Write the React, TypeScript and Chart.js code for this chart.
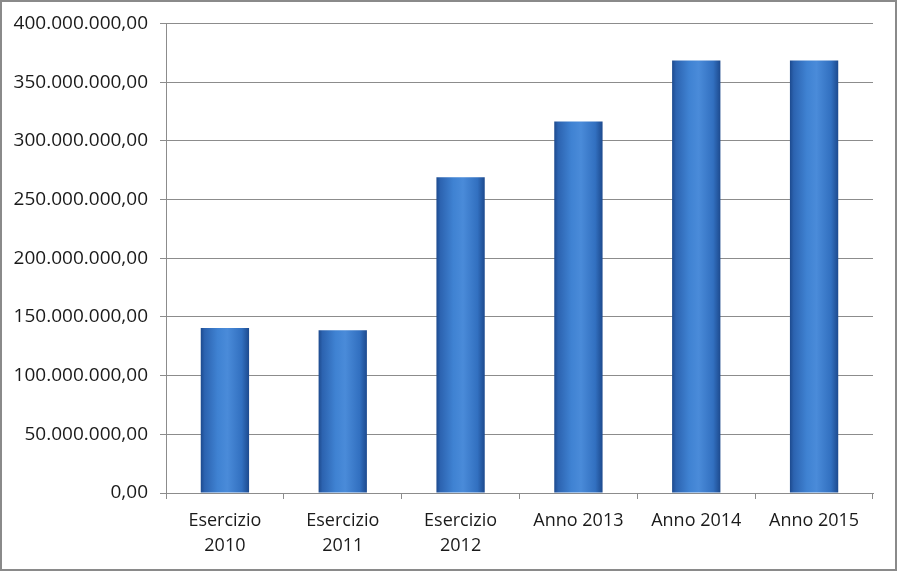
import React, { useEffect, useRef } from "react";
import { Chart, registerables } from "chart.js";

Chart.register(...registerables);

const categories: string[][] = [
  ["Esercizio", "2010"],
  ["Esercizio", "2011"],
  ["Esercizio", "2012"],
  ["Anno 2013"],
  ["Anno 2014"],
  ["Anno 2015"],
];
const values: number[] = [140500000, 138700000, 269000000, 316500000, 368500000, 368500000];
const yMin = 0;
const yMax = 400000000;
const yStep = 50000000;

function formatIt(v: number): string {
  const intPart = Math.round(v)
    .toString()
    .replace(/\B(?=(\d{3})+(?!\d))/g, ".");
  return intPart + ",00";
}

export default function App() {
  const ref = useRef<HTMLCanvasElement | null>(null);

  useEffect(() => {
    document.body.style.margin = "0";
    const canvas = ref.current;
    if (!canvas) return;
    const fallback = "#3a78c8";
    const chart = new Chart(canvas, {
      type: "bar",
      data: {
        labels: categories,
        datasets: [
          {
            data: values,
            borderWidth: 0,
            backgroundColor: (ctx: any) => {
              const el = ctx.chart.getDatasetMeta(0).data[ctx.dataIndex] as any;
              if (!el || el.x === undefined || isNaN(el.x) || !el.width) return fallback;
              const c = ctx.chart.ctx as CanvasRenderingContext2D;
              const x0 = el.x - el.width / 2;
              const x1 = el.x + el.width / 2;
              const g = c.createLinearGradient(x0, 0, x1, 0);
              g.addColorStop(0, "#1d4a8e");
              g.addColorStop(0.08, "#2c63b0");
              g.addColorStop(0.35, "#3f82d2");
              g.addColorStop(0.55, "#4a8bd9");
              g.addColorStop(0.85, "#3270c0");
              g.addColorStop(1, "#1d4a8e");
              return g;
            },
            barPercentage: 0.41,
            categoryPercentage: 1,
          },
        ],
      },
      options: {
        animation: false,
        responsive: false,
        maintainAspectRatio: false,
        layout: { padding: { left: 4, right: 22, top: 21, bottom: 0 } },
        plugins: {
          legend: { display: false },
          tooltip: { enabled: false },
        },
        scales: {
          x: {
            grid: {
              display: true,
              drawOnChartArea: false,
              drawTicks: true,
              tickLength: 6,
              color: "#8c8c8c",
              offset: true,
            },
            border: { display: true, color: "#8c8c8c", width: 1 },
            ticks: {
              color: "#1a1a1a",
              font: { family: "Open Sans", size: 18, lineHeight: 1.39 },
              padding: 9,
              maxRotation: 0,
              autoSkip: false,
            },
            afterFit: (scale: any) => {
              scale.height = 76;
            },
          },
          y: {
            min: yMin,
            max: yMax,
            grid: {
              color: "#8c8c8c",
              tickLength: 6,
              drawTicks: true,
            },
            border: { display: true, color: "#8c8c8c", width: 1 },
            ticks: {
              stepSize: yStep,
              color: "#1a1a1a",
              font: { family: "Open Sans", size: 19, lineHeight: 1 },
              padding: 12,
              callback: (v: any) => formatIt(Number(v)),
            },
            afterFit: (scale: any) => {
              scale.width = 160;
            },
          },
        },
      },
    });
    chart.update();
    return () => chart.destroy();
  }, []);

  return (
    <div
      style={{
        position: "absolute",
        left: 0,
        top: 0,
        width: 897,
        height: 571,
        boxSizing: "border-box",
        border: "2px solid #8a8a8a",
        background: "#ffffff",
      }}
    >
      <canvas ref={ref} width={893} height={567} style={{ display: "block", width: 893, height: 567 }} />
    </div>
  );
}
